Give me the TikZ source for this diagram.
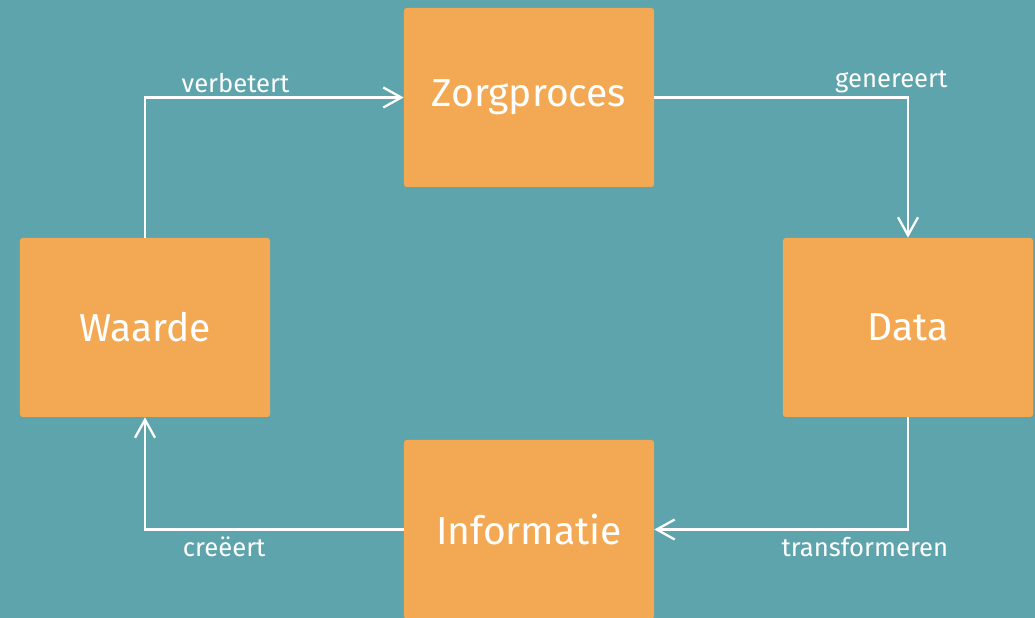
\documentclass[tikz,border=0pt]{standalone}
\usepackage{fontspec}
\setmainfont{Fira Sans}
\usetikzlibrary{matrix,arrows.meta}
\definecolor{zorgteal}{HTML}{5EA4AC}
\definecolor{zorgoranje}{HTML}{F3A954}

\begin{document}
\begin{tikzpicture}[
    stap/.style={fill=zorgoranje, rounded corners=1.5pt, minimum width=5cm, minimum height=3.58cm,
      text=white, font=\fontsize{22.2}{26}\selectfont, anchor=center},
    pijl/.style={draw=white, line width=1.3pt, -{Straight Barb[length=0.36cm,width=0.4cm]}},
    etiket/.style={text=white, font=\fontsize{14.6}{17}\selectfont}]
  \fill[zorgteal] (0,0) rectangle (20.7,12.36);
  \useasboundingbox (0,0) rectangle (20.7,12.36);
  \matrix (m) at (10.53,6.09) [matrix of nodes, nodes={stap}, column sep=2.58cm, row sep=0pt] {
    &[0.1cm] Zorgproces & \\[1.02cm]
    Waarde & & Data \\[0.46cm]
    &[0.1cm] Informatie & \\
  };
  % the cycle, clockwise
  \draw[pijl] (m-2-1.north) |- node[etiket, pos=0.675, above, inner sep=2pt] {verbetert} (m-1-2.west);
  \draw[pijl] (m-1-2.east) -| node[etiket, pos=0.467, above, inner sep=2pt] {genereert} (m-2-3.north);
  \draw[pijl] (m-2-3.south) |- node[etiket, pos=0.585, below, inner sep=3.5pt] {transformeren} (m-3-2.east);
  \draw[pijl] (m-3-2.west) -| node[etiket, pos=0.347, below, inner sep=3.5pt] {creëert} (m-2-1.south);
\end{tikzpicture}
\end{document}
